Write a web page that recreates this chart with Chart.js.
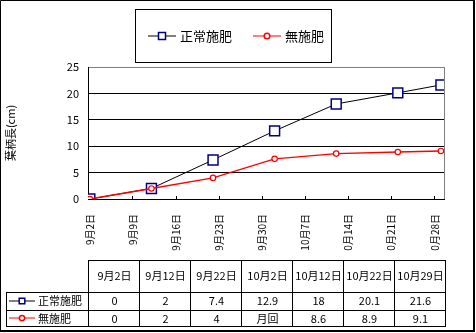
<!DOCTYPE html>
<html>
<head>
<meta charset="utf-8">
<script src="https://cdn.jsdelivr.net/npm/chart.js@4/dist/chart.umd.min.js"></script>
<style>
  body { margin: 0; background: #fff; }
  canvas { display: block; }
</style>
</head>
<body>
<canvas id="growth" width="476" height="333"></canvas>
<script>
// measurement dates (table header) and days since 9/2 for the x scale
const dates = ['9月2日', '9月12日', '9月22日', '10月2日', '10月12日', '10月22日', '10月29日'];
const dayOffsets = [0, 10, 20, 30, 40, 50, 57];

// petiole length (cm)
const normalFert = [0, 2, 7.4, 12.9, 18, 20.1, 21.6];
const noFert = [0, 2, 4, 7.6, 8.6, 8.9, 9.1];

const seriesNames = ['正常施肥', '無施肥'];

// weekly ticks on the date axis
const tickDays = [0, 7, 14, 21, 28, 35, 42, 49, 56];
const tickLabels = ['9月2日', '9月9日', '9月16日', '9月23日', '9月30日', '10月7日', '10月14日', '10月21日', '10月28日'];

const FONT = "'Noto Sans CJK JP', sans-serif";

// table text; the 10/2 cell of the second row holds a broken glyph pair
const normalCells = normalFert.map(String);
const noFertCells = noFert.map(String);
noFertCells[3] = '月回';

function drawSymbol(ctx, cx, cy, half, ds, size) {
  ctx.save();
  ctx.strokeStyle = ds.borderColor;
  ctx.lineWidth = 1;
  ctx.beginPath();
  ctx.moveTo(cx - half, cy + 0.5);
  ctx.lineTo(cx + half, cy + 0.5);
  ctx.stroke();
  ctx.fillStyle = '#fff';
  ctx.strokeStyle = ds.pointBorderColor;
  ctx.lineWidth = 1.5;
  ctx.beginPath();
  if (ds.pointStyle === 'rect') {
    ctx.rect(cx - size, cy - size + 0.5, size * 2, size * 2);
  } else {
    ctx.arc(cx, cy + 0.5, size, 0, Math.PI * 2);
  }
  ctx.fill();
  ctx.stroke();
  ctx.restore();
}

const framePlugin = {
  id: 'frame',
  afterDraw(chart) {
    const ctx = chart.ctx;
    const area = chart.chartArea;
    const sets = chart.data.datasets;

    ctx.save();
    // right edge of the plot
    ctx.strokeStyle = '#808080';
    ctx.lineWidth = 1;
    ctx.beginPath();
    ctx.moveTo(area.right + 0.5, area.top);
    ctx.lineTo(area.right + 0.5, area.bottom);
    ctx.stroke();

    // legend box
    ctx.strokeStyle = '#000';
    ctx.fillStyle = '#fff';
    ctx.fillRect(135, 9, 196, 53);
    ctx.strokeRect(135.5, 9.5, 196, 53);
    drawSymbol(ctx, 162, 35.5, 14, sets[0], 3.5);
    drawSymbol(ctx, 267, 35.5, 14, sets[1], 2.8);
    ctx.fillStyle = '#000';
    ctx.font = '13px ' + FONT;
    ctx.textBaseline = 'middle';
    ctx.textAlign = 'left';
    ctx.fillText(seriesNames[0], 180, 36);
    ctx.fillText(seriesNames[1], 285, 36);

    // long date labels stop above the table
    ctx.fillStyle = '#fff';
    ctx.fillRect(1, 251, 471, 78);

    // data table
    const x0 = 88, colW = 51, n = dates.length;
    const xEnd = x0 + colW * n;
    const yHead = 260, yBody = 292, ySep = 310, yBottom = 326;
    ctx.strokeStyle = '#000';
    ctx.lineWidth = 1;
    ctx.beginPath();
    ctx.moveTo(x0, yHead + 0.5); ctx.lineTo(xEnd + 1, yHead + 0.5);
    [yBody, ySep, yBottom].forEach(y => { ctx.moveTo(6, y + 0.5); ctx.lineTo(xEnd + 1, y + 0.5); });
    for (let i = 0; i <= n; i++) {
      ctx.moveTo(x0 + colW * i + 0.5, yHead);
      ctx.lineTo(x0 + colW * i + 0.5, yBottom + 1);
    }
    ctx.moveTo(6.5, yBody); ctx.lineTo(6.5, yBottom + 1);
    ctx.stroke();

    ctx.fillStyle = '#000';
    ctx.font = '11px ' + FONT;
    ctx.textAlign = 'center';
    dates.forEach((d, i) => {
      const cx = x0 + colW * i + colW / 2 + 1;
      ctx.fillText(d, cx, 276);
      ctx.fillText(normalCells[i], cx, 301);
      ctx.fillText(noFertCells[i], cx, 318.5);
    });
    ctx.textAlign = 'left';
    ctx.fillText(seriesNames[0], 38, 301);
    ctx.fillText(seriesNames[1], 38, 318.5);
    drawSymbol(ctx, 22, 300.5, 13, sets[0], 2.8);
    drawSymbol(ctx, 22, 317.5, 13, sets[1], 2.6);

    // outer frame
    ctx.strokeStyle = '#000';
    ctx.lineWidth = 1;
    ctx.beginPath();
    ctx.moveTo(0.5, 332); ctx.lineTo(0.5, 0.5); ctx.lineTo(475, 0.5);
    ctx.stroke();
    ctx.lineWidth = 2;
    ctx.beginPath();
    ctx.moveTo(474, 0); ctx.lineTo(474, 332);
    ctx.moveTo(0, 331); ctx.lineTo(475, 331);
    ctx.stroke();
    ctx.restore();
  }
};

const ctx = document.getElementById('growth').getContext('2d');

const growthChart = new Chart(ctx, {
  type: 'line',
  data: {
    datasets: [{
      label: seriesNames[0],
      data: dayOffsets.map((d, i) => ({ x: d, y: normalFert[i] })),
      borderColor: '#000',
      borderWidth: 1,
      pointStyle: 'rect',
      pointRadius: 7,
      pointBorderColor: '#000080',
      pointBackgroundColor: '#fff',
      pointBorderWidth: 1.5,
      order: 1
    }, {
      label: seriesNames[1],
      data: dayOffsets.map((d, i) => ({ x: d, y: noFert[i] })),
      borderColor: '#ff0000',
      borderWidth: 1.4,
      pointStyle: 'circle',
      pointRadius: 2.7,
      pointBorderColor: '#ff0000',
      pointBackgroundColor: '#fff',
      pointBorderWidth: 1.2,
      order: 0
    }]
  },
  options: {
    responsive: false,
    devicePixelRatio: 1,
    animation: false,
    layout: { padding: { top: 67, right: 32, left: 0, bottom: 0 } },
    plugins: {
      legend: { display: false },
      tooltip: { enabled: false }
    },
    elements: { line: { tension: 0 } },
    scales: {
      x: {
        type: 'linear',
        min: -0.3,
        max: 57.5,
        afterFit: s => { s.height = 134; },
        afterBuildTicks: s => { s.ticks = tickDays.map(v => ({ value: v })); },
        border: { color: '#000', width: 1 },
        grid: { drawOnChartArea: false, drawTicks: true, tickLength: -3, color: '#000' },
        ticks: {
          autoSkip: false,
          maxRotation: 90,
          minRotation: 90,
          padding: 18,
          color: '#000',
          font: { family: FONT, size: 10 },
          callback: v => tickLabels[tickDays.indexOf(v)]
        }
      },
      y: {
        min: 0,
        max: 25,
        afterFit: s => { s.width = 88; },
        border: { color: '#000', width: 1 },
        grid: {
          drawTicks: false,
          color: c => (c.tick.value === 25 ? '#808080' : '#000')
        },
        ticks: {
          stepSize: 5,
          padding: 9,
          color: '#000',
          font: { family: FONT, size: 11 }
        },
        title: {
          display: true,
          text: '葉柄長(cm)',
          color: '#000',
          padding: { top: 4, bottom: 0 },
          font: { family: FONT, size: 11 }
        }
      }
    }
  },
  plugins: [framePlugin]
});
</script>
</body>
</html>
